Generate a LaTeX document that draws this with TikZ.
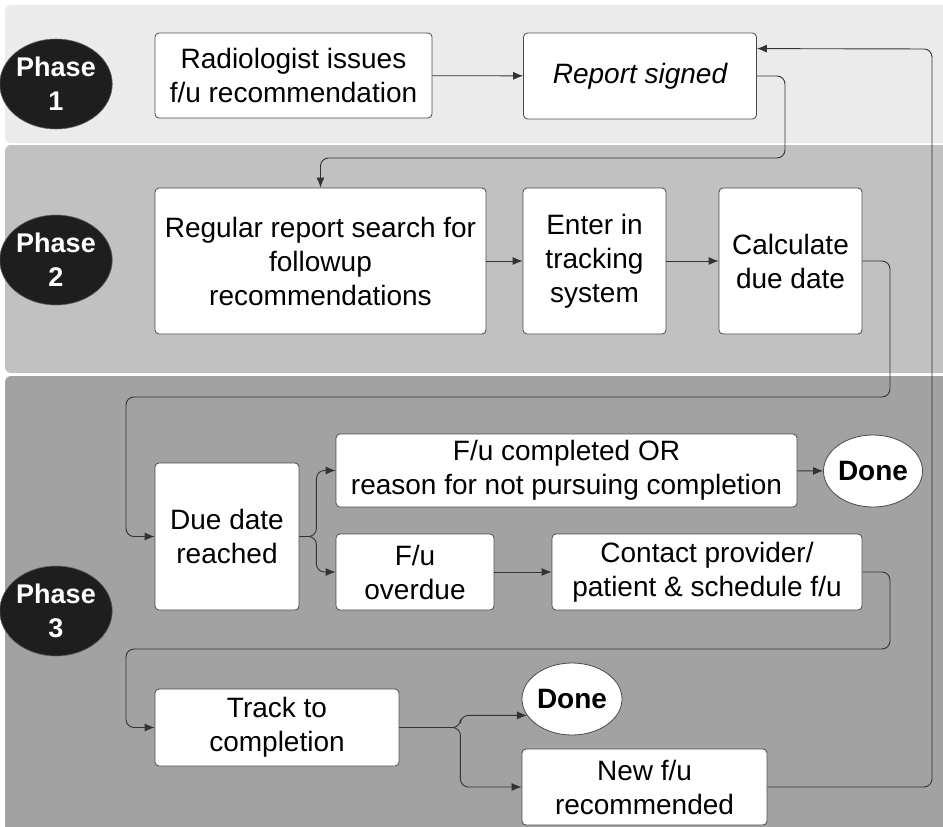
\documentclass[tikz,border=0pt]{standalone}
\usepackage{fontspec}
\setmainfont{Liberation Sans}
\usetikzlibrary{arrows.meta,shapes.geometric,calc}
\definecolor{bandA}{HTML}{EBEBEB}
\definecolor{bandB}{HTML}{C1C1C1}
\definecolor{bandC}{HTML}{A2A2A2}
\definecolor{boxline}{HTML}{4A4A4A}
\definecolor{linec}{HTML}{333333}
\definecolor{phasefill}{HTML}{1E1E1E}
\tikzset{
  box/.style={draw=boxline, fill=white, rounded corners=4pt, line width=0.8pt,
    align=center, inner sep=0pt, font=\fontsize{28}{34}\selectfont},
  endcirc/.style={ellipse, draw=boxline, fill=white, line width=0.8pt, inner sep=0pt,
    font=\fontsize{28}{34}\selectfont\bfseries},
  phase/.style={ellipse, fill=phasefill, draw=phasefill!70!white, line width=0.6pt,
    text=white, align=center, inner sep=0pt, minimum width=102pt, minimum height=90pt,
    font=\fontsize{27}{34}\selectfont\bfseries},
  conn/.style={draw=linec, line width=0.9pt, rounded corners=8pt,
    -{Latex[length=10pt,width=8pt]}},
}
\begin{document}
\begin{tikzpicture}[x=1pt,y=-1pt]
\useasboundingbox (0,0) rectangle (943,827);
\fill[white] (0,0) rectangle (943,827);
% bands
\fill[bandA, rounded corners=6pt] (5,5) rectangle (960,143);
\fill[bandB, rounded corners=6pt] (5,145) rectangle (960,373);
\fill[bandC, rounded corners=6pt] (5,376) rectangle (960,845);
% phase circles
\node[phase] (p1) at (56,84) {Phase\\1};
\node[phase] (p2) at (56,260) {Phase\\2};
\node[phase] (p3) at (56,611) {Phase\\3};
% boxes
\node[box, minimum width=277pt, minimum height=85pt] (rad) at (293.5,75.5) {Radiologist issues\\f/u recommendation};
\node[box, minimum width=233pt, minimum height=86pt, font=\fontsize{28}{34}\selectfont\itshape] (rep) at (640,76) {Report signed};
\node[box, minimum width=331pt, minimum height=146pt] (reg) at (320.5,261) {Regular report search for\\followup\\recommendations};
\node[box, minimum width=143pt, minimum height=146pt] (ent) at (594.5,261) {Enter in\\tracking\\system};
\node[box, minimum width=143pt, minimum height=146pt] (calc) at (790.5,261) {Calculate\\due date};
\node[box, minimum width=144pt, minimum height=147pt] (due) at (227,536.5) {Due date\\reached};
\node[box, minimum width=461pt, minimum height=73pt] (comp) at (566.5,470.5) {F/u completed OR\\reason for not pursuing completion};
\node[endcirc, minimum width=99pt, minimum height=72pt] (done1) at (873,471) {Done};
\node[box, minimum width=158pt, minimum height=76pt] (over) at (415,572) {F/u\\overdue};
\node[box, minimum width=310pt, minimum height=76pt] (contact) at (707,572) {Contact provider/\\patient \& schedule f/u};
\node[box, minimum width=244pt, minimum height=77pt] (track) at (277,727.5) {Track to\\completion};
\node[endcirc, minimum width=100pt, minimum height=72pt] (done2) at (572,699) {Done};
\node[box, minimum width=245pt, minimum height=76pt] (newfu) at (644.5,787) {New f/u\\recommended};
% connectors
\draw[conn] (rad) -- (rep);
\draw[conn] (rep.east) -| (785,158) -| (reg.north);
\draw[conn] (reg) -- (ent);
\draw[conn] (ent) -- (calc);
\draw[conn] (calc.east) -| (890,397) -- (126,397) |- (due.west);
\draw[conn] (due.east) -- ++(17,0) |- (comp.west);
\draw[conn] (due.east) -- ++(17,0) |- (over.west);
\draw[conn] (comp) -- (done1);
\draw[conn] (over) -- (contact);
\draw[conn] (contact.east) -| (890,649) -- (126,649) |- (track.west);
\draw[conn] (track.east) -- ++(61,0) |- (done2.200);
\draw[conn] (track.east) -- ++(61,0) |- (newfu.west);
\draw[conn] (newfu.east) -| (932,49) -- ($(rep.north east)+(0,16)$);
\end{tikzpicture}
\end{document}
